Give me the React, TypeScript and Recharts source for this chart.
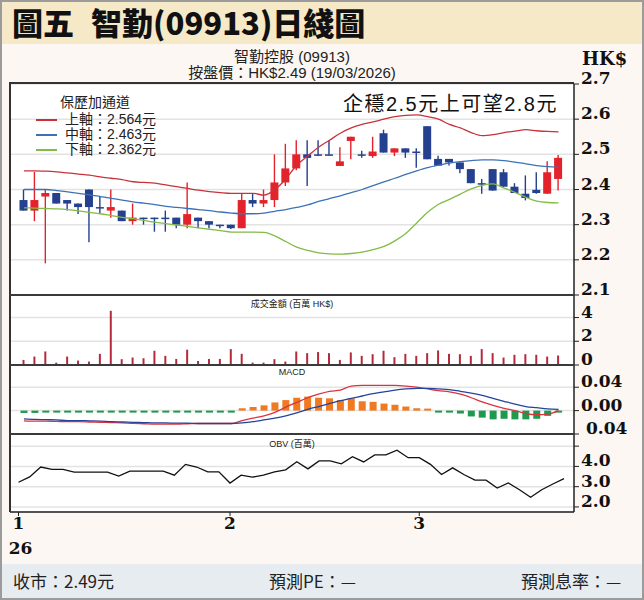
import React from "react";
import { ComposedChart, Bar, Line, XAxis, YAxis, CartesianGrid, Cell } from "recharts";

// trading days, 6 Jan - 19 Mar 2026
const dates = [
  "01-06", "01-07", "01-08", "01-09", "01-12", "01-13", "01-14", "01-15", "01-16", "01-19",
  "01-20", "01-21", "01-22", "01-23", "01-26", "01-27", "01-28", "01-29", "01-30", "02-02",
  "02-03", "02-04", "02-05", "02-06", "02-09", "02-10", "02-11", "02-12", "02-13", "02-16",
  "02-20", "02-23", "02-24", "02-25", "02-26", "02-27", "03-02", "03-03", "03-04", "03-05",
  "03-06", "03-09", "03-10", "03-11", "03-12", "03-13", "03-16", "03-17", "03-18", "03-19",
];

const open = [
  2.37, 2.34, 2.38, 2.39, 2.37, 2.36, 2.4, 2.35, 2.34, 2.34,
  2.31, 2.32, 2.32, 2.32, 2.32, 2.3, 2.32, 2.31, 2.3, 2.3,
  2.29, 2.37, 2.36, 2.37, 2.42, 2.46, 2.5, 2.5, 2.5, 2.467,
  2.538, 2.5, 2.495, 2.56, 2.505, 2.517, 2.508, 2.58, 2.487, 2.487,
  2.477, 2.458, 2.418, 2.458, 2.449, 2.408, 2.388, 2.399, 2.388, 2.43,
];
const high = [
  2.4, 2.45, 2.4, 2.39, 2.37, 2.36, 2.4, 2.38, 2.4, 2.34,
  2.36, 2.32, 2.32, 2.34, 2.32, 2.42, 2.32, 2.31, 2.3, 2.3,
  2.39, 2.39, 2.4, 2.5, 2.53, 2.54, 2.54, 2.54, 2.54, 2.52,
  2.55, 2.51, 2.55, 2.57, 2.517, 2.517, 2.517, 2.58, 2.496, 2.487,
  2.477, 2.458, 2.43, 2.458, 2.458, 2.418, 2.44, 2.449, 2.48, 2.498,
];
const low = [
  2.34, 2.31, 2.19, 2.36, 2.34, 2.33, 2.25, 2.33, 2.32, 2.31,
  2.3, 2.3, 2.28, 2.28, 2.29, 2.29, 2.29, 2.29, 2.29, 2.288,
  2.29, 2.35, 2.35, 2.35, 2.41, 2.455, 2.41, 2.495, 2.498, 2.467,
  2.486, 2.49, 2.49, 2.505, 2.495, 2.49, 2.462, 2.486, 2.468, 2.468,
  2.446, 2.418, 2.388, 2.397, 2.408, 2.39, 2.369, 2.388, 2.388, 2.397,
];
const close = [
  2.34, 2.37, 2.39, 2.36, 2.36, 2.35, 2.35, 2.348, 2.35, 2.31,
  2.32, 2.318, 2.318, 2.318, 2.3, 2.33, 2.31, 2.3, 2.298, 2.29,
  2.37, 2.36, 2.37, 2.42, 2.46, 2.5, 2.49, 2.498, 2.498, 2.48,
  2.55, 2.498, 2.508, 2.505, 2.517, 2.505, 2.505, 2.486, 2.468, 2.477,
  2.458, 2.418, 2.416, 2.397, 2.408, 2.39, 2.376, 2.39, 2.449, 2.49,
];

// Bollinger bands
const upper = [
  2.453, 2.453, 2.452, 2.45, 2.447, 2.444, 2.441, 2.436, 2.432, 2.428,
  2.422, 2.42, 2.418, 2.413, 2.408, 2.403, 2.398, 2.394, 2.391, 2.389,
  2.389, 2.389, 2.384, 2.4, 2.43, 2.469, 2.495, 2.52, 2.54, 2.56,
  2.575, 2.585, 2.592, 2.6, 2.607, 2.611, 2.612, 2.607, 2.6, 2.585,
  2.575, 2.562, 2.553, 2.556, 2.562, 2.566, 2.57, 2.567, 2.565, 2.564,
];
const middle = [
  2.4, 2.4, 2.4, 2.397, 2.393, 2.389, 2.385, 2.38, 2.375, 2.37,
  2.365, 2.361, 2.357, 2.352, 2.349, 2.346, 2.343, 2.34, 2.336, 2.333,
  2.331, 2.331, 2.333, 2.338, 2.343, 2.349, 2.356, 2.366, 2.374, 2.382,
  2.391, 2.4, 2.411, 2.422, 2.432, 2.443, 2.453, 2.462, 2.469, 2.475,
  2.479, 2.482, 2.484, 2.484, 2.482, 2.478, 2.473, 2.468, 2.465, 2.463,
];
const lower = [
  2.348, 2.347, 2.346, 2.345, 2.343, 2.339, 2.335, 2.331, 2.326, 2.321,
  2.317, 2.312, 2.307, 2.303, 2.299, 2.295, 2.291, 2.287, 2.283, 2.279,
  2.279, 2.279, 2.278, 2.268, 2.252, 2.236, 2.227, 2.22, 2.217, 2.216,
  2.218, 2.222, 2.229, 2.238, 2.254, 2.275, 2.305, 2.335, 2.358, 2.372,
  2.387, 2.402, 2.412, 2.416, 2.404, 2.392, 2.378, 2.367, 2.363, 2.362,
];

// 成交金額 (百萬 HK$)
const turnover = [
  0.43, 0.71, 1.14, 0.2, 0.71, 0.37, 0.29, 0.94, 4.57, 0.49,
  0.63, 0.57, 1.2, 0.77, 0.51, 1.29, 0.34, 0.51, 0.51, 1.34,
  0.94, 0.2, 0.2, 0.49, 0.29, 1.14, 1.0, 1.09, 1.0, 0.43,
  1.06, 0.77, 0.91, 1.2, 0.66, 0.94, 0.77, 1.0, 1.23, 0.94,
  0.91, 0.77, 1.34, 1.0, 0.63, 0.86, 0.91, 0.86, 0.71, 0.8,
];

// MACD
const dif = [
  -0.0175, -0.018, -0.018, -0.0185, -0.019, -0.019, -0.0195, -0.02, -0.0205, -0.021,
  -0.022, -0.0225, -0.023, -0.023, -0.023, -0.0225, -0.022, -0.022, -0.022, -0.022,
  -0.017, -0.013, -0.009, -0.003, 0.006, 0.014, 0.022, 0.028, 0.033, 0.035,
  0.042, 0.043, 0.043, 0.043, 0.043, 0.042, 0.04, 0.037, 0.034, 0.032,
  0.028, 0.022, 0.015, 0.009, 0.004, 0.0, -0.005, -0.007, -0.006, 0.0,
];
const dea = [
  -0.014, -0.015, -0.0155, -0.016, -0.017, -0.017, -0.0175, -0.018, -0.019, -0.0195,
  -0.02, -0.0205, -0.021, -0.021, -0.0215, -0.0215, -0.022, -0.022, -0.022, -0.022,
  -0.021, -0.019, -0.016, -0.013, -0.009, -0.004, 0.002, 0.007, 0.012, 0.017,
  0.021, 0.025, 0.029, 0.032, 0.035, 0.037, 0.038, 0.038, 0.037, 0.036,
  0.033, 0.03, 0.026, 0.021, 0.016, 0.011, 0.007, 0.005, 0.003, 0.002,
];
const hist = [
  -0.004, -0.004, -0.001, -0.001, -0.001, -0.001, -0.001, -0.001, -0.003, -0.003,
  -0.003, -0.003, -0.003, -0.003, -0.003, -0.0005, -0.0005, -0.0005, -0.0005, -0.0005,
  0.004, 0.006, 0.009, 0.014, 0.018, 0.022, 0.024, 0.022, 0.021, 0.018,
  0.021, 0.016, 0.015, 0.012, 0.01, 0.007, 0.004, 0.0008, -0.002, -0.003,
  -0.005, -0.01, -0.012, -0.015, -0.014, -0.015, -0.015, -0.014, -0.009, -0.003,
];

// OBV (百萬)
const obv = [
  3.22, 3.48, 3.97, 3.85, 3.85, 3.72, 3.72, 3.72, 3.72, 3.52,
  3.77, 3.77, 3.77, 3.77, 3.57, 4.1, 3.97, 3.73, 3.73, 3.18,
  3.57, 3.47, 3.57, 3.73, 3.83, 4.23, 3.88, 4.27, 4.27, 4.13,
  4.48, 4.22, 4.57, 4.57, 4.8, 4.43, 4.43, 4.1, 3.6, 3.93,
  3.6, 3.32, 3.32, 2.93, 3.18, 2.85, 2.48, 2.85, 3.13, 3.4,
];

const monthTicks = ["01-06", "02-02", "03-02"];
const monthLabels = ["1", "2", "3"];
const yearLabel = "26";

const priceTicks = [2.1, 2.2, 2.3, 2.4, 2.5, 2.6, 2.7];
const volTicks = [0, 2, 4];
const macdTicks = [-0.04, 0, 0.04];
const obvTicks = [2, 3, 4, 5];

const rows = dates.map((d, i) => ({
  date: d,
  open: open[i],
  high: high[i],
  low: low[i],
  close: close[i],
  range: [low[i], high[i]],
  upper: upper[i],
  middle: middle[i],
  lower: lower[i],
  vol: turnover[i],
  dif: dif[i],
  dea: dea[i],
  hist: hist[i],
  obv: obv[i],
}));

const UP = "#e3222b";
const DOWN = "#24408f";
const SANS = '"Liberation Sans", "Noto Sans CJK TC", sans-serif';
const CJK = '"Noto Sans CJK TC", "Liberation Sans", sans-serif';
const SERIF = '"DejaVu Serif", serif';

const W = 640;
const MARGIN_L = 10;
const AXIS_W = 66;
const X_PAD = { left: 8.5, right: 10 };
const LABEL_ROOM = 5; // extra svg room under each panel for its lowest axis label

const Candle = (props: any) => {
  const { x, y, width, height, payload } = props;
  if (!payload) return null;
  const h = Math.abs(height);
  const top = height >= 0 ? y : y + height;
  const span = payload.high - payload.low;
  const py = (v: number) => top + ((payload.high - v) / span) * h;
  const color = payload.close >= payload.open ? UP : DOWN;
  const cx = x + width / 2;
  const bTop = py(Math.max(payload.open, payload.close));
  const bBot = py(Math.min(payload.open, payload.close));
  return (
    <g>
      <line x1={cx} x2={cx} y1={top} y2={top + h} stroke={color} strokeWidth={1.4} />
      <rect x={cx - 4} y={bTop} width={8} height={Math.max(bBot - bTop, 1.5)} fill={color} />
    </g>
  );
};

const AxisTick = (props: any) => {
  const { x, y, payload, fmt } = props;
  const label = fmt(payload.value);
  if (!label) return null;
  const shift = payload.value < 0 ? 5 : 0;
  return (
    <text x={x + shift} y={y} textAnchor="start" fontFamily={SERIF} fontWeight="bold" fontSize={17} fill="#111">
      {label}
    </text>
  );
};

const MonthTick = (props: any) => {
  const { x, y, payload } = props;
  const k = monthTicks.indexOf(payload.value);
  if (k < 0) return null;
  return (
    <g fontFamily={SERIF} fontWeight="bold" fontSize={17} fill="#111">
      <text x={x} y={y + 11} textAnchor="middle">
        {monthLabels[k]}
      </text>
      {k === 0 && (
        <text x={x + 2} y={y + 36} textAnchor="middle">
          {yearLabel}
        </text>
      )}
    </g>
  );
};

const yAxisProps = {
  orientation: "right" as const,
  width: AXIS_W,
  axisLine: { stroke: "#222", strokeWidth: 1.5 },
  tickLine: { stroke: "#222" },
  tickSize: 5,
  tickMargin: 2,
  interval: 0 as const,
  allowDataOverflow: true,
};

const abs = (l: number, t: number, extra: React.CSSProperties = {}): React.CSSProperties => ({
  position: "absolute",
  left: l,
  top: t,
  ...extra,
});

export default function App() {
  const last = rows.length - 1;
  return (
    <div style={{ position: "relative", width: 644, height: 600, background: "#fcf7f2", overflow: "hidden", fontFamily: SANS }}>
      <style>{"body{margin:0}"}</style>

      {/* title bar */}
      <div style={abs(0, 0, { width: 644, height: 44, background: "#f6e9c8" })} />
      <div
        style={abs(12, 1, {
          fontFamily: CJK,
          fontWeight: 900,
          fontSize: 31,
          lineHeight: "42px",
          color: "#111",
          wordSpacing: 10,
          whiteSpace: "nowrap",
        })}
      >
        圖五 智勤(09913)日綫圖
      </div>

      <div style={abs(0, 48, { width: 584, textAlign: "center", fontSize: 15, lineHeight: "17px", color: "#222" })}>
        智勤控股 (09913)
      </div>
      <div style={abs(0, 64, { width: 584, textAlign: "center", fontSize: 15, lineHeight: "17px", color: "#222" })}>
        按盤價：HK${close[last].toFixed(2)} (19/03/2026)
      </div>
      <div style={abs(582, 50, { fontFamily: SERIF, fontWeight: "bold", fontSize: 18, lineHeight: "18px", color: "#111" })}>
        HK$
      </div>

      {/* plot background */}
      <div style={abs(9, 83, { width: 565, height: 429, background: "#fff" })} />

      {/* price panel */}
      <div style={abs(0, 60)}>
        <ComposedChart
          width={W}
          height={235 + LABEL_ROOM}
          data={rows}
          margin={{ top: 24, right: 0, bottom: LABEL_ROOM, left: MARGIN_L }}
        >
          <CartesianGrid vertical={false} stroke="#e3e3e3" strokeWidth={1.5} />
          <XAxis dataKey="date" hide padding={X_PAD} />
          <YAxis
            {...yAxisProps}
            domain={[2.1, 2.7]}
            ticks={priceTicks}
            tick={(p: any) => <AxisTick {...p} fmt={(v: number) => v.toFixed(1)} />}
          />
          <Line type="monotone" dataKey="upper" stroke="#c8323a" strokeWidth={1.3} dot={false} isAnimationActive={false} />
          <Line type="monotone" dataKey="middle" stroke="#3c72b5" strokeWidth={1.3} dot={false} isAnimationActive={false} />
          <Line type="monotone" dataKey="lower" stroke="#82bb45" strokeWidth={1.3} dot={false} isAnimationActive={false} />
          <Bar dataKey="range" barSize={8} shape={Candle} isAnimationActive={false} />
        </ComposedChart>
      </div>

      {/* legend */}
      <div style={abs(60, 91, { fontSize: 14, color: "#222", fontFamily: CJK })}>保歷加通道</div>
      {[
        { name: "上軸", v: upper[last], c: "#c8323a", y: 119 },
        { name: "中軸", v: middle[last], c: "#3c72b5", y: 134 },
        { name: "下軸", v: lower[last], c: "#82bb45", y: 149 },
      ].map((r) => (
        <React.Fragment key={r.name}>
          <div style={abs(36, r.y, { width: 21, height: 1.5, background: r.c })} />
          <div style={abs(65, r.y - 10, { fontSize: 14, lineHeight: "20px", color: "#222", whiteSpace: "nowrap" })}>
            {r.name}：{r.v.toFixed(3)}元
          </div>
        </React.Fragment>
      ))}
      <div
        style={abs(330, 88, {
          width: 228,
          textAlign: "right",
          fontSize: 20,
          letterSpacing: 1.5,
          color: "#111",
          whiteSpace: "nowrap",
        })}
      >
        企穩2.5元上可望2.8元
      </div>

      {/* turnover panel */}
      <div style={abs(0, 295)}>
        <ComposedChart
          width={W}
          height={70 + LABEL_ROOM}
          data={rows}
          margin={{ top: 0, right: 0, bottom: LABEL_ROOM, left: MARGIN_L }}
        >
          <CartesianGrid vertical={false} stroke="#e3e3e3" strokeWidth={1.5} />
          <XAxis dataKey="date" hide padding={X_PAD} />
          <YAxis
            {...yAxisProps}
            domain={[0, 5.9]}
            ticks={volTicks}
            tick={(p: any) => <AxisTick {...p} fmt={(v: number) => String(v)} />}
          />
          <Bar dataKey="vol" barSize={2} fill="#b52a3b" isAnimationActive={false} />
        </ComposedChart>
      </div>
      <div style={abs(10, 297, { width: 564, textAlign: "center", fontSize: 9, color: "#222" })}>成交金額 (百萬 HK$)</div>

      {/* MACD panel */}
      <div style={abs(0, 365)}>
        <ComposedChart
          width={W}
          height={69 + LABEL_ROOM}
          data={rows}
          margin={{ top: 0, right: 0, bottom: LABEL_ROOM, left: MARGIN_L }}
        >
          <CartesianGrid vertical={false} stroke="#e3e3e3" strokeWidth={1.5} />
          <XAxis dataKey="date" hide padding={X_PAD} />
          <YAxis
            {...yAxisProps}
            domain={[-0.04, 0.078]}
            ticks={macdTicks}
            tick={(p: any) => <AxisTick {...p} fmt={(v: number) => Math.abs(v).toFixed(2)} />}
          />
          <Bar dataKey="hist" barSize={7} minPointSize={2} isAnimationActive={false}>
            {rows.map((r) => (
              <Cell key={r.date} fill={r.hist >= 0 ? "#f07a22" : "#1f9a4d"} />
            ))}
          </Bar>
          <Line type="monotone" dataKey="dif" stroke="#d9343e" strokeWidth={1.3} dot={false} isAnimationActive={false} />
          <Line type="monotone" dataKey="dea" stroke="#24449c" strokeWidth={1.3} dot={false} isAnimationActive={false} />
        </ComposedChart>
      </div>
      <div style={abs(10, 367, { width: 564, textAlign: "center", fontSize: 9, color: "#222" })}>MACD</div>

      {/* OBV panel + date axis */}
      <div style={abs(0, 434)}>
        <ComposedChart width={W} height={128} data={rows} margin={{ top: 0, right: 0, bottom: 0, left: MARGIN_L }}>
          <CartesianGrid vertical={false} stroke="#e3e3e3" strokeWidth={1.5} />
          <XAxis
            dataKey="date"
            padding={X_PAD}
            height={50}
            ticks={monthTicks}
            interval={0}
            axisLine={{ stroke: "#222", strokeWidth: 1.5 }}
            tickLine={{ stroke: "#222" }}
            tickSize={4}
            tickMargin={2}
            tick={MonthTick}
          />
          <YAxis
            {...yAxisProps}
            domain={[1.75, 5.6]}
            ticks={obvTicks}
            tick={(p: any) => <AxisTick {...p} fmt={(v: number) => (v >= 5 ? "" : v.toFixed(1))} />}
          />
          <Line type="linear" dataKey="obv" stroke="#111" strokeWidth={1.3} dot={false} isAnimationActive={false} />
        </ComposedChart>
      </div>
      <div style={abs(10, 437, { width: 564, textAlign: "center", fontSize: 9, color: "#222" })}>OBV (百萬)</div>

      {/* panel frames */}
      <div style={abs(9, 82, { width: 565, height: 1.5, background: "#333" })} />
      <div style={abs(9, 82, { width: 1.5, height: 430, background: "#333" })} />
      {[294, 364, 433].map((t) => (
        <div key={t} style={abs(9, t, { width: 565, height: 2, background: "#3a3a3a" })} />
      ))}

      {/* footer */}
      <div style={abs(0, 564, { width: 644, height: 36, background: "#e7ecf1" })} />
      <div style={abs(13, 569, { fontFamily: CJK, fontSize: 17, lineHeight: "24px", color: "#222" })}>
        收市：{close[last].toFixed(2)}元
      </div>
      <div style={abs(269, 569, { fontFamily: CJK, fontSize: 17, lineHeight: "24px", color: "#222" })}>預測PE：—</div>
      <div style={abs(521, 569, { fontFamily: CJK, fontSize: 17, lineHeight: "24px", color: "#222" })}>預測息率：—</div>

      <div style={abs(0, 0, { width: 644, height: 600, boxSizing: "border-box", border: "2px solid #9b9b9b", pointerEvents: "none" })} />
    </div>
  );
}
